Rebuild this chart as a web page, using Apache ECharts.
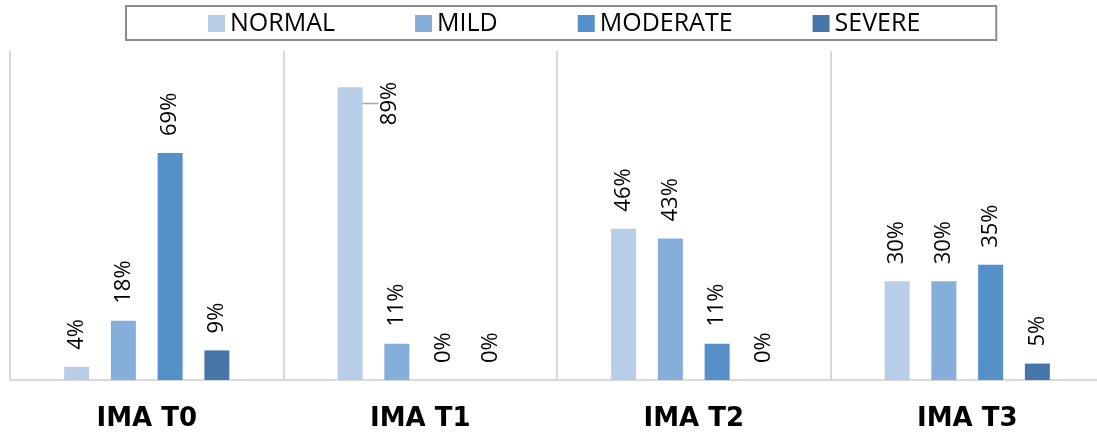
<!DOCTYPE html>
<html>
<head>
<meta charset="utf-8">
<script src="https://cdn.jsdelivr.net/npm/echarts@6/dist/echarts.min.js"></script>
<style>
  html, body { margin: 0; padding: 0; background: #fff; overflow: hidden; }
  /* plot area runs a few pixels past the right edge of the window */
  #chart { width: 1104px; height: 435px; }
</style>
</head>
<body>
<div id="chart"></div>
<script>
// Assessment time points
const categories = ['IMA T0', 'IMA T1', 'IMA T2', 'IMA T3'];

// Share of patients per severity grade (%)
const normal   = [4, 89, 46, 30];
const mild     = [18, 11, 43, 30];
const moderate = [69, 0, 11, 35];
const severe   = [9, 0, 0, 5];

const seriesNames = ['NORMAL', 'MILD', 'MODERATE', 'SEVERE'];
const seriesColors = ['#B7CDE8', '#85AEDB', '#5591C8', '#4677A8'];
const seriesData = [normal, mild, moderate, severe];

const labelFont = 'Open Sans';
const TALL = 80; // bars at or above this get their label set beside them

const series = seriesData.map((values, i) => ({
  name: seriesNames[i],
  type: 'bar',
  data: values.map(v => v >= TALL ? { value: v, labelLine: { show: true } } : v),
  barWidth: 25,
  barGap: '87%',
  itemStyle: { color: seriesColors[i] },
  label: {
    show: true,
    position: 'top',
    rotate: 90,
    align: 'left',
    verticalAlign: 'middle',
    distance: 17,
    fontFamily: labelFont,
    fontSize: 22,
    color: '#000',
    formatter: p => p.value + '%'
  },
  labelLine: {
    show: false,
    lineStyle: { color: '#A6A6A6', width: 1.5 }
  },
  labelLayout: params => {
    if (values[params.dataIndex] >= TALL) {
      const r = params.rect;
      const cx = r.x + r.width / 2;
      return {
        x: r.x + r.width + 27,
        y: r.y + 38,
        labelLinePoints: [
          [cx, r.y],
          [cx + 7, r.y + 16],
          [r.x + r.width + 7, r.y + 16]
        ]
      };
    }
    return {};
  }
}));

const chart = echarts.init(document.getElementById('chart'), null, { renderer: 'canvas' });
chart.setOption({
  animation: false,
  legend: {
    data: seriesNames,
    left: 126,
    top: 6,
    padding: [5, 76, 4, 82],
    itemGap: 80,
    itemWidth: 17,
    itemHeight: 17,
    borderColor: '#8C8C8C',
    borderWidth: 2,
    borderRadius: 0,
    icon: 'rect',
    textStyle: { fontFamily: labelFont, fontSize: 25, color: '#000' }
  },
  grid: { left: 10, right: 0, top: 51, bottom: 55 },
  xAxis: {
    type: 'category',
    data: categories,
    axisLine: { lineStyle: { color: '#D9D9D9', width: 2 } },
    axisTick: { show: false },
    splitLine: { show: true, lineStyle: { color: '#D9D9D9', width: 2 } },
    axisLabel: {
      margin: 26,
      fontFamily: 'DejaVu Sans',
      fontWeight: 'bold',
      fontSize: 26,
      color: '#000'
    }
  },
  yAxis: {
    type: 'value',
    min: 0,
    max: 100,
    show: false,
    splitLine: { show: false }
  },
  series: series
});
</script>
</body>
</html>
